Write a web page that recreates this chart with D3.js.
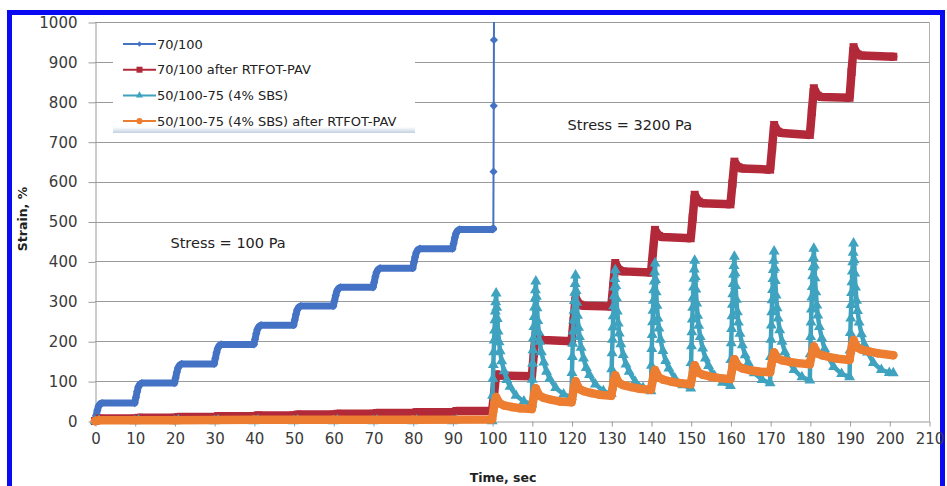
<!DOCTYPE html>
<html>
<head>
<meta charset="utf-8">
<script src="https://cdn.jsdelivr.net/npm/d3@7"></script>
<style>
  html, body { margin: 0; padding: 0; background: #fff; }
  svg { display: block; font-family: "DejaVu Sans", Verdana, sans-serif; }
</style>
</head>
<body>
<svg id="chart" width="947" height="486"></svg>
<script>
// ---- data (time in s, strain in %) ----
var xTicks = [0, 10, 20, 30, 40, 50, 60, 70, 80, 90, 100, 110, 120, 130, 140, 150, 160, 170, 180, 190, 200, 210];
var yTicks = [0, 100, 200, 300, 400, 500, 600, 700, 800, 900, 1000];
var seriesNames = ['70/100', '70/100 after RTFOT-PAV', '50/100-75 (4% SBS)', '50/100-75 (4% SBS) after RTFOT-PAV'];
var notes = [['Stress = 100 Pa', 19, 445], ['Stress = 3200 Pa', 119, 742]];

// 70/100 : staircase at 100 Pa, then runs away once 3200 Pa is applied
var neat70 = [
  [0, 0], [0.3, 14], [0.6, 27], [0.9, 37], [1.3, 43], [1.8, 45], [10, 45],
  [10.3, 59], [10.6, 73], [10.9, 85], [11.3, 92], [11.8, 95], [20, 95],
  [20.3, 108], [20.6, 122], [20.9, 133], [21.3, 140], [21.8, 143], [30, 143],
  [30.3, 157], [30.6, 171], [30.9, 182], [31.3, 189], [31.8, 192], [40, 192],
  [40.3, 205], [40.6, 219], [40.9, 230], [41.3, 237], [41.8, 240], [50, 240],
  [50.3, 253], [50.6, 267], [50.9, 278], [51.3, 285], [51.8, 288], [60, 288],
  [60.3, 301], [60.6, 314], [60.9, 325], [61.3, 332], [61.8, 335], [70, 335],
  [70.3, 348], [70.6, 362], [70.9, 373], [71.3, 380], [71.8, 383], [80, 383],
  [80.3, 397], [80.6, 411], [80.9, 422], [81.3, 429], [81.8, 432], [90, 432],
  [90.3, 445], [90.6, 459], [90.9, 470], [91.3, 477], [91.8, 480], [100, 480],
  [100.3, 482], [100.35, 625], [100.4, 790], [100.45, 955], [100.5, 1120]
];

// 70/100 after RTFOT-PAV
var aged70 = [
  [0, 0], [1, 6], [10, 6], [11, 8], [20, 8], [21, 10], [30, 10], [31, 12], [40, 12], [41, 14],
  [50, 14], [51, 16], [60, 16], [61, 18], [70, 18], [71, 20], [80, 20], [81, 22], [90, 22], [91, 25], [100, 25],
  [100.5, 70], [101, 117], [102, 114], [110, 112],
  [110.5, 170], [111, 222], [112, 206], [113, 203], [120, 200],
  [120.5, 250], [121, 309], [122, 292], [123, 289], [130, 287],
  [130.5, 340], [131, 396], [132, 378], [133, 375], [140, 372],
  [140.5, 425], [141, 479], [142, 464], [143, 461], [150, 458],
  [150.5, 510], [151, 567], [152, 550], [153, 546], [160, 543],
  [160.5, 595], [161, 650], [162, 636], [163, 633], [170, 630],
  [170.5, 685], [171, 742], [172, 725], [173, 722], [180, 717],
  [180.5, 775], [181, 834], [182, 815], [183, 812], [190, 810],
  [190.5, 875], [191, 937], [192, 919], [193, 916], [201, 913]
];

// 50/100-75 (4% SBS): near zero at 100 Pa, creep/recovery spikes at 3200 Pa
var sbsLow = [
  [0, 0], [1, 2], [10, 0], [11, 2], [20, 0], [21, 2], [30, 0], [31, 2], [40, 0], [41, 2],
  [50, 0], [51, 2], [60, 0], [61, 2], [70, 0], [71, 2], [80, 0], [81, 2], [90, 0], [91, 2], [100, 0]
];
var sbsCycleStart = [100, 110, 120, 130, 140, 150, 160, 170, 180, 190];
var sbsOffsets = [0.1, 0.2, 0.3, 0.4, 0.5, 0.6, 0.7, 0.8, 0.9, 1, 1.15, 1.3, 1.5, 1.75, 2, 2.4, 3, 3.7, 4.5, 6, 8, 10];
var sbsCycles = [
  [64, 106, 141, 173, 202, 227, 253, 275, 298, 320, 284, 256, 225, 198, 175, 150, 125, 103, 86, 64, 49, 42],
  [104, 144, 178, 208, 236, 261, 285, 307, 328, 350, 312, 283, 251, 222, 199, 173, 147, 124, 106, 83, 67, 60],
  [121, 161, 194, 225, 252, 277, 301, 322, 344, 365, 326, 297, 264, 234, 211, 184, 157, 133, 116, 92, 75, 68],
  [130, 170, 204, 235, 263, 288, 313, 335, 356, 378, 339, 308, 275, 245, 220, 193, 166, 142, 124, 99, 83, 75],
  [139, 181, 216, 248, 277, 302, 328, 350, 373, 395, 354, 323, 289, 257, 232, 204, 176, 151, 132, 107, 90, 82],
  [146, 188, 223, 255, 284, 309, 335, 357, 380, 402, 361, 330, 295, 264, 239, 211, 182, 157, 138, 113, 96, 88],
  [153, 195, 231, 263, 292, 318, 344, 367, 389, 412, 371, 339, 304, 273, 247, 219, 190, 165, 146, 120, 103, 95],
  [161, 204, 240, 273, 303, 329, 356, 379, 402, 425, 383, 351, 315, 283, 257, 228, 199, 173, 154, 128, 110, 102],
  [168, 211, 247, 280, 310, 336, 363, 386, 409, 432, 390, 358, 323, 290, 265, 236, 207, 181, 162, 136, 118, 110],
  [177, 221, 257, 291, 321, 348, 375, 398, 422, 445, 403, 370, 335, 302, 276, 247, 218, 192, 172, 146, 128, 121]
];
var sbsTail = [[201, 120]];

// 50/100-75 (4% SBS) after RTFOT-PAV
var sbsAged = [
  [0, 0], [1, 2], [20, 2], [40, 3], [60, 3], [80, 3], [100, 4],
  [100.3, 25], [100.6, 45], [101, 60], [101.5, 50], [102, 44], [103, 39], [105, 35], [107, 32], [110, 30],
  [110.3, 50], [110.6, 68], [111, 82], [111.5, 70], [112, 63], [113, 58], [115, 53], [117, 49], [120, 47],
  [120.3, 65], [120.6, 85], [121, 100], [121.5, 88], [122, 80], [123, 75], [125, 70], [127, 66], [130, 63],
  [130.3, 80], [130.6, 100], [131, 115], [131.5, 103], [132, 95], [133, 90], [135, 85], [137, 81], [140, 78],
  [140.3, 95], [140.6, 112], [141, 128], [141.5, 117], [142, 109], [143, 104], [145, 99], [147, 95], [150, 92],
  [150.3, 108], [150.6, 125], [151, 140], [151.5, 129], [152, 121], [153, 116], [155, 111], [157, 108], [160, 105],
  [160.3, 122], [160.6, 140], [161, 155], [161.5, 145], [162, 137], [163, 132], [165, 127], [167, 124], [170, 122],
  [170.3, 140], [170.6, 158], [171, 172], [171.5, 163], [172, 156], [173, 152], [175, 148], [177, 145], [180, 142],
  [180.3, 158], [180.6, 172], [181, 187], [181.5, 177], [182, 169], [183, 165], [185, 160], [187, 156], [190, 153],
  [190.3, 172], [190.6, 188], [191, 203], [191.5, 192], [192, 184], [193, 179], [195, 174], [197, 170], [201, 165]
];

// ---- build the SBS series from its cycles ----
var sbs70 = sbsLow.slice();
sbsCycleStart.forEach(function(s, i) {
  sbsOffsets.forEach(function(o, j) { sbs70.push([s + o, sbsCycles[i][j]]); });
});
sbs70 = sbs70.concat(sbsTail);

// ---- chart ----
var svg = d3.select('#chart');
var x = d3.scaleLinear().domain([0, 210]).range([95, 929]);
var y = d3.scaleLinear().domain([0, 1000]).range([421, 22]);

var gridColor = '#9a9a9a';
var textColor = '#3a3a3a';

// blue frame around the figure
svg.append('rect')
    .attr('x', 9.5).attr('y', 12.5)
    .attr('width', 933).attr('height', 490)
    .attr('fill', 'none')
    .attr('stroke', '#0a0af2')
    .attr('stroke-width', 5);

// horizontal gridlines
svg.append('g').selectAll('line')
    .data(yTicks.filter(function(d) { return d > 0; }))
    .join('line')
    .attr('x1', x(0)).attr('x2', x(210))
    .attr('y1', function(d) { return Math.round(y(d)) + 0.5; })
    .attr('y2', function(d) { return Math.round(y(d)) + 0.5; })
    .attr('stroke', gridColor)
    .attr('stroke-width', 1);

// right border of the plot area
svg.append('line')
    .attr('x1', x(210) + 0.5).attr('x2', x(210) + 0.5)
    .attr('y1', y(1000)).attr('y2', y(0))
    .attr('stroke', '#b0b0b0');

// axes
var yAxis = d3.axisLeft(y).tickValues(yTicks).tickFormat(d3.format('d'))
    .tickSize(7).tickSizeOuter(0).tickPadding(11);
var xAxis = d3.axisBottom(x).tickValues(xTicks).tickFormat(d3.format('d'))
    .tickSize(5).tickSizeOuter(0).tickPadding(7);

var gy = svg.append('g').attr('transform', 'translate(' + (x(0) + 0.5) + ',0.5)').call(yAxis);
var gx = svg.append('g').attr('transform', 'translate(0.5,' + (y(0) + 0.5) + ')').call(xAxis);

[gy, gx].forEach(function(g) {
  g.select('.domain').attr('stroke', gridColor);
  g.selectAll('.tick line').attr('stroke', gridColor);
  g.selectAll('.tick text')
      .attr('fill', textColor)
      .style('font-size', '15px')
      .style('font-family', '"DejaVu Sans", Verdana, sans-serif');
});

// axis titles
svg.append('text')
    .attr('x', 503).attr('y', 482)
    .attr('text-anchor', 'middle')
    .style('font-size', '12.5px').style('font-weight', 'bold')
    .attr('fill', '#222')
    .text('Time, sec');

svg.append('text')
    .attr('transform', 'translate(27,219) rotate(-90)')
    .attr('text-anchor', 'middle')
    .style('font-size', '12.5px').style('font-weight', 'bold')
    .attr('fill', '#222')
    .text('Strain, %');

// clip the runaway curve at the top of the plot
svg.append('clipPath').attr('id', 'clip')
  .append('rect').attr('x', 60).attr('y', y(1000)).attr('width', 880).attr('height', 480);

var plot = svg.append('g').attr('clip-path', 'url(#clip)');

var line = d3.line()
    .x(function(d) { return x(d[0]); })
    .y(function(d) { return y(d[1]); });

var series = [
  { pts: neat70, color: '#4472c4', sym: d3.symbolSquare, size: 34, rot: 45, width: 2, band: 7, bandEnd: 100.3, join: 'round' },
  { pts: aged70, color: '#b2293a', sym: d3.symbolSquare, size: 64, rot: 0, width: 2, band: 8.5, bandEnd: 999, join: 'bevel' },
  { pts: sbs70, color: '#3fa3c0', sym: d3.symbolTriangle, size: 52, rot: 0, width: 3, band: 4.5, bandEnd: 999, join: 'round' },
  { pts: sbsAged, color: '#ed7d31', sym: d3.symbolCircle, size: 56, rot: 0, width: 2, band: 8.5, bandEnd: 999, join: 'round' }
];

series.forEach(function(s) {
  var g = plot.append('g');
  if (s.band) {
    g.append('path')
        .datum(s.pts.filter(function(d) { return d[0] <= s.bandEnd; }))
        .attr('d', line)
        .attr('fill', 'none')
        .attr('stroke', s.color)
        .attr('stroke-width', s.band)
        .attr('stroke-linejoin', s.join)
        .attr('stroke-linecap', 'round');
  }
  g.append('path')
      .datum(s.pts)
      .attr('d', line)
      .attr('fill', 'none')
      .attr('stroke', s.color)
      .attr('stroke-width', s.width);
  g.selectAll('path.mk')
      .data(s.pts)
      .join('path')
      .attr('class', 'mk')
      .attr('d', d3.symbol().type(s.sym).size(s.size))
      .attr('transform', function(d) {
        return 'translate(' + x(d[0]) + ',' + y(d[1]) + ') rotate(' + s.rot + ')';
      })
      .attr('fill', s.color);
});

// annotations
svg.append('g').selectAll('text')
    .data(notes)
    .join('text')
    .attr('x', function(d) { return x(d[1]); })
    .attr('y', function(d) { return y(d[2]) + 5; })
    .style('font-size', '14.5px')
    .attr('fill', '#222')
    .text(function(d) { return d[0]; });

// legend
var defs = svg.append('defs');
var grad = defs.append('linearGradient').attr('id', 'legShade').attr('x1', 0).attr('x2', 0).attr('y1', 0).attr('y2', 1);
grad.append('stop').attr('offset', '0%').attr('stop-color', '#ffffff');
grad.append('stop').attr('offset', '100%').attr('stop-color', '#c3d0e2');

var leg = svg.append('g').attr('transform', 'translate(113,32)');
leg.append('rect').attr('width', 302).attr('height', 101).attr('fill', '#fff');
leg.append('rect').attr('y', 95).attr('width', 302).attr('height', 6).attr('fill', 'url(#legShade)');

var legSize = [14, 36, 22, 30];
var rows = leg.selectAll('g.row')
    .data(series)
    .join('g')
    .attr('class', 'row')
    .attr('transform', function(d, i) { return 'translate(10,' + (12 + i * 25.7) + ')'; });

rows.append('line')
    .attr('x1', 0).attr('x2', 33)
    .attr('stroke', function(d) { return d.color; })
    .attr('stroke-width', 2);
rows.append('path')
    .attr('d', function(d, i) { return d3.symbol().type(d.sym).size(legSize[i])(); })
    .attr('transform', function(d) { return 'translate(16.5,0) rotate(' + d.rot + ')'; })
    .attr('fill', function(d) { return d.color; });
rows.append('text')
    .attr('x', 34).attr('y', 0).attr('dy', '0.36em')
    .style('font-size', '13px')
    .attr('fill', '#222')
    .text(function(d, i) { return seriesNames[i]; });
</script>
</body>
</html>
